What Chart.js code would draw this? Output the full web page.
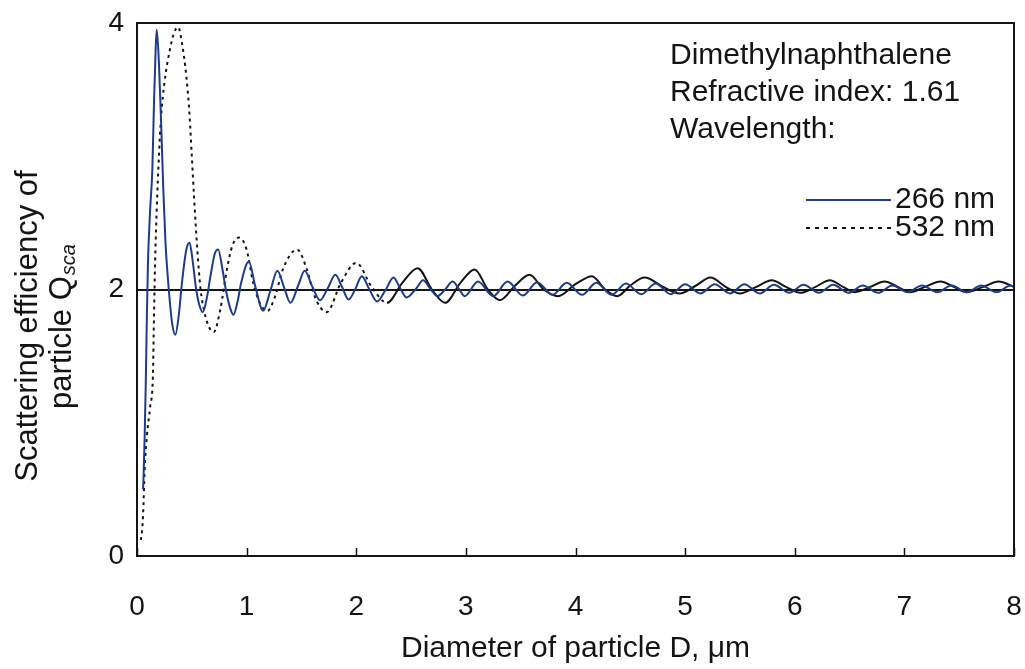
<!DOCTYPE html>
<html>
<head>
<meta charset="utf-8">
<script src="https://cdn.jsdelivr.net/npm/chart.js@4.4.0/dist/chart.umd.min.js"></script>
<style>
  html, body { margin: 0; padding: 0; background: #ffffff; }
  #wrap { width: 1025px; height: 669px; position: relative; }
</style>
</head>
<body>
<div id="wrap"><canvas id="c" width="1025" height="669"></canvas></div>
<script>
// ---------------- data ----------------
const xTicks = [0, 1, 2, 3, 4, 5, 6, 7, 8];
const yTicks = [0, 2, 4];
const seriesLabels = ['266 nm', '532 nm'];
const infoLines = ['Dimethylnaphthalene', 'Refractive index: 1.61', 'Wavelength:'];
const xTitle = 'Diameter of particle D, \u03BCm';
const yTitleLine1 = 'Scattering efficiency of';
const yTitleLine2 = 'particle Q';
const yTitleSub = 'sca';

// 266 nm (solid blue)
const d266 = [
  0.055,0.06,0.07,0.08,0.09,0.10,0.12,0.14,0.155,0.17,
  0.18,0.20,0.22,0.24,0.26,0.29,0.32,0.35,0.38,0.41,
  0.45,0.48,0.51,0.54,0.57,0.60,0.64,0.67,0.71,0.74,
  0.78,0.81,0.85,0.88,0.92,0.95,1.02,1.08,1.15,1.22,
  1.28,1.34,1.40,1.47,1.53,1.60,1.67,1.74,1.81,1.87,
  1.93,1.99,2.05,2.12,2.19,2.27,2.34,2.40,2.46,2.54,
  2.61,2.68,2.74,2.81,2.88,2.94,2.99,3.11,3.25,3.38,
  3.52,3.65,3.79,3.92,4.06,4.19,4.33,4.46,4.60,4.73,
  4.87,5.00,5.14,5.27,5.41,5.54,5.68,5.81,5.95,6.08,
  6.22,6.35,6.49,6.62,6.76,6.89,7.03,7.16,7.30,7.43,
  7.57,7.70,7.84,7.97,8.0
];
const q266 = [
  0.50,0.60,0.90,1.30,1.80,2.20,2.60,2.90,3.40,3.80,
  3.95,3.70,3.25,2.75,2.35,2.00,1.75,1.66,1.80,2.05,
  2.30,2.35,2.20,2.00,1.88,1.83,1.95,2.10,2.27,2.30,
  2.15,2.00,1.86,1.81,1.92,2.05,2.21,2.02,1.84,2.00,
  2.14,2.02,1.90,2.03,2.14,2.02,1.92,2.01,2.11,2.02,
  1.925,2.00,2.10,2.00,1.91,2.00,2.09,2.01,1.94,2.00,
  2.07,2.00,1.95,2.00,2.06,2.00,1.95,2.06,1.95,2.06,
  1.955,2.055,1.96,2.05,1.96,2.05,1.96,2.045,1.965,2.045,
  1.965,2.04,1.97,2.04,1.97,2.04,1.97,2.035,1.975,2.035,
  1.975,2.035,1.975,2.03,1.975,2.03,1.98,2.03,1.98,2.03,
  1.98,2.03,1.98,2.03,2.02
];

// 532 nm (dotted black)
const d532 = [
  0.035,0.045,0.055,0.07,0.09,0.12,0.145,0.155,0.165,0.18,
  0.20,0.22,0.25,0.30,0.34,0.375,0.41,0.45,0.48,0.50,
  0.52,0.55,0.58,0.61,0.65,0.70,0.76,0.82,0.87,0.93,
  1.00,1.06,1.12,1.19,1.26,1.33,1.46,1.55,1.62,1.73,
  1.86,2.00,2.14,2.28,2.42,2.56,2.69,2.81,2.95,3.08,
  3.20,3.31,3.45,3.58,3.71,3.84,4.00,4.15,4.27,4.38,
  4.50,4.63,4.80,4.95,5.10,5.23,5.37,5.50,5.65,5.79,
  5.92,6.05,6.19,6.32,6.44,6.55,6.69,6.82,6.94,7.05,
  7.19,7.33,7.45,7.57,7.72,7.86,8.00
];
const q532 = [
  0.12,0.18,0.30,0.65,0.90,1.12,1.35,1.80,2.20,2.60,
  3.00,3.30,3.55,3.80,3.93,3.97,3.85,3.60,3.30,3.00,
  2.70,2.30,2.00,1.85,1.73,1.68,1.85,2.15,2.33,2.39,
  2.30,2.05,1.90,1.84,1.95,2.15,2.30,2.15,1.95,1.83,
  2.05,2.20,2.02,1.90,2.05,2.16,2.00,1.90,2.05,2.15,
  2.00,1.92,2.03,2.11,2.00,1.95,2.04,2.10,2.00,1.95,
  2.03,2.09,2.02,1.97,2.03,2.09,2.02,1.97,2.02,2.07,
  2.02,1.975,2.02,2.07,2.02,1.98,2.02,2.06,2.02,1.98,
  2.02,2.06,2.02,1.98,2.02,2.06,2.02
];

// ---------------- styling ----------------
const BLUE = '#1d3c8c';
const INK = '#141414';
const FONT = "'Liberation Sans', Arial, sans-serif";
const CLEAR = 'rgba(0,0,0,0)';

const toPts = (xs, ys) => xs.map((x, i) => ({ x: x, y: ys[i] }));

const decorPlugin = {
  id: 'decor',
  afterDraw(chart) {
    const ctx = chart.ctx;
    const a = chart.chartArea;
    const xs = chart.scales.x;
    ctx.save();
    // frame
    ctx.strokeStyle = INK;
    ctx.lineWidth = 2;
    ctx.strokeRect(a.left, a.top, a.right - a.left, a.bottom - a.top);
    // inward x tick marks
    ctx.lineWidth = 1.5;
    xTicks.forEach(v => {
      const px = Math.round(xs.getPixelForValue(v)) + 0.5;
      ctx.beginPath();
      ctx.moveTo(px, a.bottom);
      ctx.lineTo(px, a.bottom - 8);
      ctx.stroke();
    });
    // info text
    ctx.fillStyle = INK;
    ctx.font = '30px ' + FONT;
    ctx.textAlign = 'left';
    ctx.textBaseline = 'middle';
    const tx = 670;
    infoLines.forEach((t, i) => ctx.fillText(t, tx, 56 + i * 37));
    // legend
    const ds = chart.data.datasets;
    const ly = [200, 228];
    ds.forEach((d, i) => {
      ctx.save();
      ctx.strokeStyle = d.borderColor;
      ctx.lineWidth = 2;
      ctx.setLineDash(i === 1 ? [4, 5] : []);
      ctx.beginPath();
      ctx.moveTo(806, ly[i]);
      ctx.lineTo(891, ly[i]);
      ctx.stroke();
      ctx.restore();
      ctx.fillStyle = INK;
      ctx.fillText(seriesLabels[i], 895, ly[i]);
    });
    // y title (rotated, two lines, with subscript)
    ctx.save();
    ctx.translate(28, 326);
    ctx.rotate(-Math.PI / 2);
    ctx.textAlign = 'center';
    ctx.textBaseline = 'middle';
    ctx.font = '31px ' + FONT;
    ctx.fillText(yTitleLine1, 0, 0);
    ctx.restore();
    ctx.save();
    ctx.translate(62, 327);
    ctx.rotate(-Math.PI / 2);
    ctx.textBaseline = 'middle';
    ctx.font = '31px ' + FONT;
    const w1 = ctx.measureText(yTitleLine2).width;
    ctx.font = 'italic 20px ' + FONT;
    const w2 = ctx.measureText(yTitleSub).width;
    const start = -(w1 + w2) / 2;
    ctx.font = '31px ' + FONT;
    ctx.textAlign = 'left';
    ctx.fillText(yTitleLine2, start, 0);
    ctx.font = 'italic 20px ' + FONT;
    ctx.fillText(yTitleSub, start + w1 + 1, 7);
    ctx.restore();
    ctx.restore();
  }
};

new Chart(document.getElementById('c'), {
  type: 'line',
  data: {
    datasets: [
      {
        label: seriesLabels[0],
        data: toPts(d266, q266),
        borderColor: BLUE,
        borderWidth: 2,
        pointRadius: 0,
        cubicInterpolationMode: 'monotone',
        fill: false
      },
      {
        label: seriesLabels[1],
        data: toPts(d532, q532),
        borderColor: INK,
        borderWidth: 2,
        pointRadius: 0,
        cubicInterpolationMode: 'monotone',
        fill: false,
        segment: {
          borderDash: c => (c.p0.parsed.x < 2.2 ? [3, 4] : [])
        }
      }
    ]
  },
  options: {
    responsive: false,
    animation: false,
    layout: { padding: { left: 0, top: 23, right: 11, bottom: 0 } },
    plugins: {
      legend: { display: false },
      tooltip: { enabled: false }
    },
    scales: {
      x: {
        type: 'linear',
        min: 0,
        max: 8,
        afterFit: s => { s.height = 113; },
        afterBuildTicks: s => { s.ticks = xTicks.map(v => ({ value: v })); },
        grid: {
          display: true,
          drawOnChartArea: false,
          drawTicks: true,
          tickLength: 34,
          color: CLEAR,
          tickColor: CLEAR
        },
        border: { display: false },
        ticks: {
          color: INK,
          font: { family: FONT, size: 28 },
          padding: 0,
          maxRotation: 0
        },
        title: {
          display: true,
          text: xTitle,
          color: INK,
          font: { family: FONT, size: 30 },
          padding: { top: 0, bottom: 2 }
        }
      },
      y: {
        type: 'linear',
        min: 0,
        max: 4,
        afterFit: s => { s.width = 137; },
        afterBuildTicks: s => { s.ticks = yTicks.map(v => ({ value: v })); },
        grid: {
          drawTicks: true,
          tickLength: 13,
          tickColor: CLEAR,
          color: c => (c.tick && c.tick.value === 2 ? INK : CLEAR),
          lineWidth: 2
        },
        border: { display: false },
        ticks: {
          color: INK,
          font: { family: FONT, size: 28 },
          padding: 0
        }
      }
    }
  },
  plugins: [decorPlugin]
});
</script>
</body>
</html>
